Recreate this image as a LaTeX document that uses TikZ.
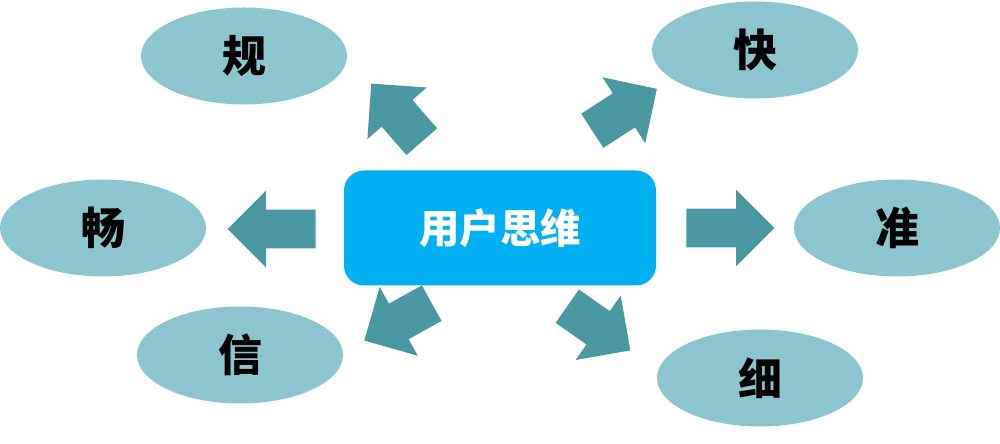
\documentclass[tikz,border=0pt]{standalone}
\usepackage{fontspec}
\setmainfont{Noto Sans CJK SC}
\usepackage{tikz}
\usetikzlibrary{shapes.geometric, shapes.arrows}
\usepackage{xcolor}
\definecolor{coreblue}{HTML}{00B0F0}
\definecolor{leafteal}{HTML}{8BC6CE}
\definecolor{arrowteal}{HTML}{4A98A0}

\begin{document}
\begin{tikzpicture}[x=0.2mm,y=0.2mm]
  \tikzstyle{core}=[rectangle,rounded corners=4mm,fill=coreblue,text=white,
    minimum width=6.24cm,minimum height=2.3cm,font=\bfseries\fontsize{23}{23}\selectfont]
  \tikzstyle{leaf}=[ellipse,fill=leafteal,inner sep=0pt,minimum width=4.12cm,
    minimum height=1.94cm,font=\bfseries\fontsize{25}{25}\selectfont]
  \tikzstyle{bigarrow}=[single arrow,fill=arrowteal,inner xsep=0pt,inner ysep=0.38cm,
    anchor=tail,minimum height=1.76cm,single arrow head extend=0.38cm]
  \tikzstyle{diagarrow}=[bigarrow,inner ysep=0.4cm,minimum height=1.54cm,
    single arrow head extend=0.38cm]

  \useasboundingbox (0,0) rectangle (1000,444);

  \node[core] (user) at (500,216) {用户思维};

  \node[leaf] (gui)   at (244,388) {规};
  \node[leaf] (kuai)  at (755,394) {快};
  \node[leaf] (chang) at (103,216) {畅};
  \node[leaf] (zhun)  at (897,216) {准};
  \node[leaf] (xin)   at (240,89)  {信};
  \node[leaf] (xi)    at (760,66)  {细};

  \node[bigarrow,rotate=180] (to_chang) at (316,215) {};
  \node[bigarrow]            (to_zhun)  at (686,216) {};
  \node[diagarrow,rotate=131] (to_gui)  at (422,302) {};
  \node[diagarrow,rotate=33]  (to_kuai) at (592,313) {};
  \node[diagarrow,rotate=209] (to_xin)  at (432,141) {};
  \node[diagarrow,rotate=-35] (to_xi)   at (567,138) {};
\end{tikzpicture}
\end{document}
